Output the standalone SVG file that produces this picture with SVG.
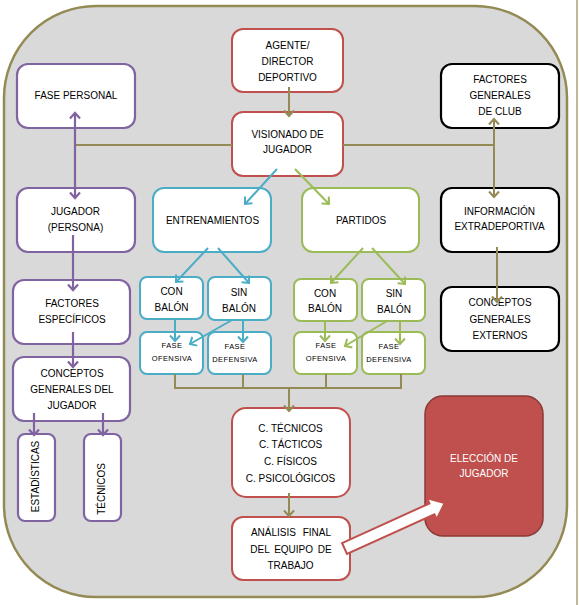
<svg xmlns="http://www.w3.org/2000/svg" width="579" height="605" viewBox="0 0 579 605">
<defs>
<marker id="aO" markerUnits="userSpaceOnUse" markerWidth="14" markerHeight="14" refX="0" refY="0" viewBox="-7 -7 14 14" orient="auto-start-reverse"><path d="M-5.5,-5 L0,0 L-5.5,5" fill="none" stroke="#948a54" stroke-width="2"/></marker>
<marker id="aP" markerUnits="userSpaceOnUse" markerWidth="14" markerHeight="14" refX="0" refY="0" viewBox="-7 -7 14 14" orient="auto-start-reverse"><path d="M-5.5,-5 L0,0 L-5.5,5" fill="none" stroke="#8064a2" stroke-width="2.2"/></marker>
<marker id="aB" markerUnits="userSpaceOnUse" markerWidth="14" markerHeight="14" refX="0" refY="0" viewBox="-7 -7 14 14" orient="auto-start-reverse"><path d="M-5.5,-5 L0,0 L-5.5,5" fill="none" stroke="#4bacc6" stroke-width="2"/></marker>
<marker id="aG" markerUnits="userSpaceOnUse" markerWidth="14" markerHeight="14" refX="0" refY="0" viewBox="-7 -7 14 14" orient="auto-start-reverse"><path d="M-5.5,-5 L0,0 L-5.5,5" fill="none" stroke="#9bbb59" stroke-width="2"/></marker>
</defs>
<style>
text{font-family:"Liberation Sans",Arial,sans-serif;font-size:10px;fill:#000;text-anchor:middle}
.sm{font-size:7.5px;letter-spacing:0.4px}
.box{fill:#fff;stroke-width:2}
.red{stroke:#c0504d}
.pur{stroke:#8064a2;stroke-width:2.2}
.blu{stroke:#4bacc6}
.grn{stroke:#9bbb59}
.blk{stroke:#000;stroke-width:2.2}
.lo{fill:none;stroke:#948a54;stroke-width:2}
.lp{fill:none;stroke:#8064a2;stroke-width:2.2}
.lb{fill:none;stroke:#4bacc6;stroke-width:2}
.lg{fill:none;stroke:#9bbb59;stroke-width:2}
.w{fill:#fff}
</style>
<rect x="0" y="0" width="579" height="605" fill="#fff"/>
<line x1="577" y1="0" x2="577" y2="605" stroke="#948a54" stroke-width="1.2"/>
<rect id="background" x="4" y="6" width="563" height="591" rx="92" ry="92" fill="#d9d9d9" stroke="#948a54" stroke-width="2.5"/>

<g id="agente"><rect class="box red" x="232" y="29" width="111" height="63" rx="11"/><text x="287.5" y="49">AGENTE/</text><text x="287.5" y="65">DIRECTOR</text><text x="287.5" y="81">DEPORTIVO</text></g>
<g id="visionado"><rect class="box red" x="232" y="112" width="111" height="64" rx="11"/><text x="287.5" y="138">VISIONADO DE</text><text x="287.5" y="153">JUGADOR</text></g>
<g id="fase-personal"><rect class="box pur" x="17" y="64" width="118" height="64" rx="11"/><text x="76" y="99">FASE PERSONAL</text></g>
<g id="factores-club"><rect class="box blk" x="441" y="64" width="118" height="64" rx="11"/><text x="500" y="83">FACTORES</text><text x="500" y="99">GENERALES</text><text x="500" y="115">DE CLUB</text></g>
<g id="jugador-persona"><rect class="box pur" x="17" y="188" width="118" height="64" rx="11"/><text x="75.5" y="215">JUGADOR</text><text x="75.5" y="231">(PERSONA)</text></g>
<g id="entrenamientos"><rect class="box blu" x="153" y="188" width="118" height="64" rx="11"/><text x="212.5" y="224">ENTRENAMIENTOS</text></g>
<g id="partidos"><rect class="box grn" x="302" y="188" width="117" height="64" rx="11"/><text x="361" y="224">PARTIDOS</text></g>
<g id="info-extra"><rect class="box blk" x="441" y="188" width="118" height="64" rx="11"/><text x="499.5" y="215">INFORMACIÓN</text><text x="499.5" y="230">EXTRADEPORTIVA</text></g>
<g id="factores-especificos"><rect class="box pur" x="13" y="280" width="117" height="64" rx="11"/><text x="72" y="307">FACTORES</text><text x="72" y="323">ESPECÍFICOS</text></g>
<g id="e-con-balon"><rect class="box blu" x="140" y="277" width="63" height="42" rx="7"/><text x="171.5" y="295">CON</text><text x="171.5" y="311">BALÓN</text></g>
<g id="e-sin-balon"><rect class="box blu" x="208" y="277" width="63" height="43" rx="7"/><text x="239" y="296">SIN</text><text x="239" y="312">BALÓN</text></g>
<g id="e-fase-ofensiva"><rect class="box blu" x="140" y="332" width="63" height="42" rx="7"/><text class="sm" x="172" y="348">FASE</text><text class="sm" x="172" y="361">OFENSIVA</text></g>
<g id="e-fase-defensiva"><rect class="box blu" x="208" y="332" width="63" height="42" rx="7"/><text class="sm" x="235" y="349">FASE</text><text class="sm" x="235" y="362">DEFENSIVA</text></g>
<g id="p-con-balon"><rect class="box grn" x="294" y="279" width="63" height="42" rx="7"/><text x="325" y="297">CON</text><text x="325" y="312">BALÓN</text></g>
<g id="p-sin-balon"><rect class="box grn" x="362" y="279" width="63" height="42" rx="7"/><text x="394" y="297">SIN</text><text x="394" y="313">BALÓN</text></g>
<g id="p-fase-ofensiva"><rect class="box grn" x="294" y="332" width="63" height="42" rx="7"/><text class="sm" x="326" y="348">FASE</text><text class="sm" x="326" y="361">OFENSIVA</text></g>
<g id="p-fase-defensiva"><rect class="box grn" x="362" y="332" width="63" height="42" rx="7"/><text class="sm" x="389" y="349">FASE</text><text class="sm" x="389" y="362">DEFENSIVA</text></g>
<g id="conceptos-externos"><rect class="box blk" x="441" y="287" width="118" height="64" rx="11"/><text x="500" y="306">CONCEPTOS</text><text x="500" y="323">GENERALES</text><text x="500" y="339">EXTERNOS</text></g>
<g id="conceptos-jugador"><rect class="box pur" x="13" y="357" width="117" height="64" rx="11"/><text x="72" y="377">CONCEPTOS</text><text x="72" y="393">GENERALES DEL</text><text x="72" y="409">JUGADOR</text></g>
<g id="estadisticas"><rect class="box pur" x="18" y="434" width="37" height="87" rx="7"/><text transform="translate(38.5,476.5) rotate(-90)">ESTADÍSTICAS</text></g>
<g id="tecnicos"><rect class="box pur" x="84" y="434" width="37" height="87" rx="7"/><text transform="translate(105,489) rotate(-90)">TÉCNICOS</text></g>
<g id="c-tecnicos"><rect class="box red" x="232" y="408" width="118" height="89" rx="14"/><text x="290.5" y="432">C. TÉCNICOS</text><text x="290.5" y="448">C. TÁCTICOS</text><text x="290.5" y="465">C. FÍSICOS</text><text x="290.5" y="482">C. PSICOLÓGICOS</text></g>
<g id="analisis"><rect class="box red" x="232" y="517" width="118" height="63" rx="11"/><text x="291" y="536" word-spacing="4">ANÁLISIS FINAL</text><text x="291" y="553" word-spacing="2">DEL EQUIPO DE</text><text x="290.5" y="569">TRABAJO</text></g>
<g id="eleccion"><rect x="425" y="396" width="118" height="140" rx="18" fill="#c0504d" stroke="#8c3836" stroke-width="1.5"/><text class="w" x="484" y="462">ELECCIÓN DE</text><text class="w" x="484" y="477">JUGADOR</text></g>

<g id="connectors">
<line class="lo" x1="289" y1="87" x2="289" y2="116" marker-end="url(#aO)"/>
<line class="lo" x1="75" y1="145" x2="232" y2="145"/>
<line class="lo" x1="343" y1="145" x2="494" y2="145"/>
<line class="lo" x1="494" y1="119" x2="494" y2="197" marker-start="url(#aO)" marker-end="url(#aO)"/>
<line class="lp" x1="75" y1="113" x2="75" y2="198" marker-start="url(#aP)" marker-end="url(#aP)"/>
<line class="lp" x1="73" y1="235" x2="73" y2="290" marker-end="url(#aP)"/>
<line class="lp" x1="73" y1="332" x2="73" y2="367" marker-end="url(#aP)"/>
<line class="lp" x1="34" y1="413" x2="34" y2="435" marker-end="url(#aP)"/>
<line class="lp" x1="103" y1="413" x2="103" y2="435" marker-end="url(#aP)"/>
<line class="lb" x1="277" y1="169" x2="245" y2="204" marker-end="url(#aB)"/>
<line class="lg" x1="295" y1="169" x2="329" y2="204" marker-end="url(#aG)"/>
<line class="lb" x1="208" y1="248" x2="176" y2="282" marker-end="url(#aB)"/>
<line class="lb" x1="218" y1="248" x2="249" y2="283" marker-end="url(#aB)"/>
<line class="lb" x1="175" y1="319" x2="175" y2="341" marker-end="url(#aB)"/>
<line class="lb" x1="232" y1="320" x2="190" y2="344" marker-end="url(#aB)"/>
<line class="lb" x1="243" y1="320" x2="243" y2="342" marker-end="url(#aB)"/>
<line class="lg" x1="363" y1="248" x2="331" y2="283" marker-end="url(#aG)"/>
<line class="lg" x1="372" y1="248" x2="405" y2="284" marker-end="url(#aG)"/>
<line class="lg" x1="325" y1="321" x2="325" y2="341" marker-end="url(#aG)"/>
<line class="lg" x1="387" y1="321" x2="345" y2="346" marker-end="url(#aG)"/>
<line class="lg" x1="400" y1="321" x2="400" y2="344" marker-end="url(#aG)"/>
<line class="lo" x1="497" y1="247" x2="497" y2="302" marker-end="url(#aO)"/>
<path class="lo" d="M175,374 V388 H401 V374 M243,374 V388 M326,374 V388"/>
<line class="lo" x1="289" y1="388" x2="289" y2="411" marker-end="url(#aO)"/>
<line class="lo" x1="289" y1="493" x2="289" y2="516" marker-end="url(#aO)"/>
<polygon transform="translate(344.5,548.5) rotate(-24.4)" points="0,-6 96,-6 96,-11.5 110,0 96,11.5 96,6 0,6" fill="#fff" stroke="#c0504d" stroke-width="2" stroke-linejoin="miter"/>
</g>
</svg>
